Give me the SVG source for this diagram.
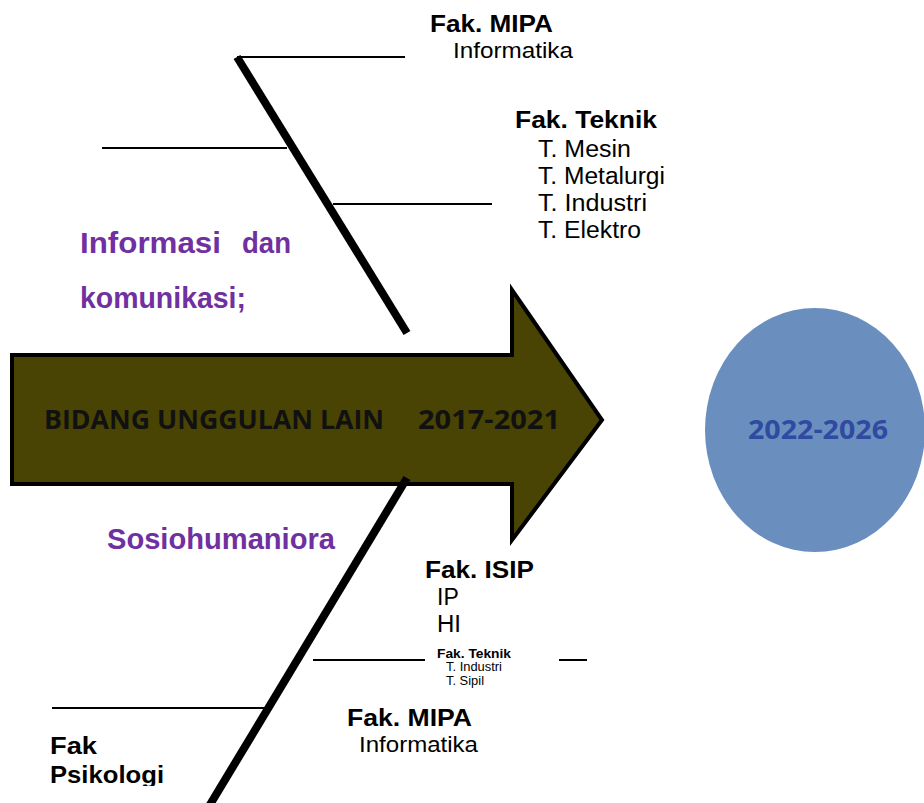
<svg xmlns="http://www.w3.org/2000/svg" width="924" height="803" viewBox="0 0 924 803">
<style>
.t{font-family:"Liberation Sans",Arial,sans-serif;fill:#000}
.b{font-weight:bold}
.p{font-family:"Liberation Sans",Arial,sans-serif;font-weight:bold;fill:#7030a0;font-size:29px}
.bone{stroke:#000;stroke-width:8;fill:none}
.rib{stroke:#000;stroke-width:2;fill:none}
.cal{font-family:"Open Sans","DejaVu Sans",sans-serif;font-weight:bold}
</style>
<defs>
<clipPath id="clipBottom"><rect x="0" y="0" width="924" height="786"/></clipPath>
</defs>
<rect width="924" height="803" fill="#fff"/>
<g id="arrow">
<path d="M12 355 H512 V290 L602 420 L512 540 V484 H12 Z" fill="#494403" stroke="#000" stroke-width="4" stroke-linejoin="miter"/>
<text class="cal" x="44" y="429" font-size="26" fill="#111" textLength="340" lengthAdjust="spacingAndGlyphs">BIDANG UNGGULAN LAIN</text>
<text class="cal" x="418" y="429" font-size="26" fill="#111" textLength="142" lengthAdjust="spacingAndGlyphs">2017-2021</text>
</g>
<g id="target">
<ellipse cx="815" cy="430" rx="110" ry="122" fill="#6a8fbf"/>
<text class="cal" x="748" y="439" font-size="26" fill="#2f4aa0" textLength="140" lengthAdjust="spacingAndGlyphs">2022-2026</text>
</g>
<g id="connectors">
<line class="bone" x1="237" y1="57" x2="407" y2="333"/>
<line class="rib" x1="237" y1="57" x2="405" y2="57"/>
<line class="rib" x1="102" y1="148" x2="287" y2="148"/>
<line class="rib" x1="333" y1="204" x2="492" y2="204"/>
<line class="bone" x1="407" y1="478" x2="208" y2="808"/>
<line class="rib" x1="313" y1="660" x2="425" y2="660"/>
<line class="rib" x1="559" y1="660" x2="587" y2="660"/>
<line class="rib" x1="52" y1="708" x2="272" y2="708"/>
</g>
<g id="mipa-top">
<text class="t b" x="430" y="32" font-size="23" textLength="123" lengthAdjust="spacingAndGlyphs">Fak. MIPA</text>
<text class="t" x="453" y="58" font-size="22" textLength="120" lengthAdjust="spacingAndGlyphs">Informatika</text>
</g>
<g id="teknik-top">
<text class="t b" x="515" y="128" font-size="24" textLength="142" lengthAdjust="spacingAndGlyphs">Fak. Teknik</text>
<text class="t" x="538" y="157" font-size="23" textLength="93" lengthAdjust="spacingAndGlyphs">T. Mesin</text>
<text class="t" x="538" y="184" font-size="23" textLength="127" lengthAdjust="spacingAndGlyphs">T. Metalurgi</text>
<text class="t" x="538" y="211" font-size="23" textLength="109" lengthAdjust="spacingAndGlyphs">T. Industri</text>
<text class="t" x="538" y="238" font-size="23" textLength="103" lengthAdjust="spacingAndGlyphs">T. Elektro</text>
</g>
<g id="infokom">
<text class="p" x="80" y="253" textLength="141" lengthAdjust="spacingAndGlyphs">Informasi</text>
<text class="p" x="242" y="253" textLength="49" lengthAdjust="spacingAndGlyphs">dan</text>
<text class="p" x="80" y="308" textLength="166" lengthAdjust="spacingAndGlyphs">komunikasi;</text>
</g>
<g id="sosio">
<text class="p" x="107" y="549" textLength="228" lengthAdjust="spacingAndGlyphs">Sosiohumaniora</text>
</g>
<g id="isip">
<text class="t b" x="425" y="578" font-size="24" textLength="109" lengthAdjust="spacingAndGlyphs">Fak. ISIP</text>
<text class="t" x="437" y="605" font-size="23">IP</text>
<text class="t" x="437" y="632" font-size="23" textLength="24" lengthAdjust="spacingAndGlyphs">HI</text>
</g>
<g id="teknik-bottom">
<text class="t b" x="437" y="658" font-size="13" textLength="74" lengthAdjust="spacingAndGlyphs">Fak. Teknik</text>
<text class="t" x="446" y="671" font-size="12" textLength="56" lengthAdjust="spacingAndGlyphs">T. Industri</text>
<text class="t" x="446" y="685" font-size="12" textLength="38" lengthAdjust="spacingAndGlyphs">T. Sipil</text>
</g>
<g id="mipa-bottom">
<text class="t b" x="347" y="726" font-size="23" textLength="125" lengthAdjust="spacingAndGlyphs">Fak. MIPA</text>
<text class="t" x="359" y="752" font-size="22" textLength="119" lengthAdjust="spacingAndGlyphs">Informatika</text>
</g>
<g id="psikologi" clip-path="url(#clipBottom)">
<text class="t b" x="50" y="754" font-size="24" textLength="47" lengthAdjust="spacingAndGlyphs">Fak</text>
<text class="t b" x="50" y="783" font-size="24" textLength="114" lengthAdjust="spacingAndGlyphs">Psikologi</text>
</g>
</svg>
